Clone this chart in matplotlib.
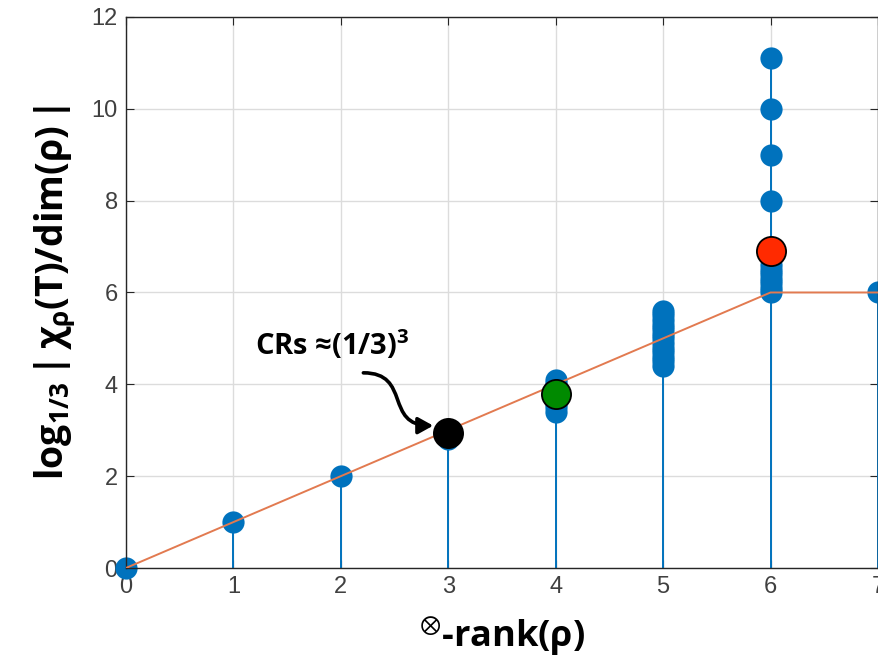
import numpy as np
import matplotlib.pyplot as plt
from matplotlib.patches import FancyArrowPatch
from matplotlib.path import Path

# ── data ─────────────────────────────────────────────
ranks = [0, 1, 2, 3, 4, 5, 6, 7]
values_by_rank = [
    [0.0],
    [1.0],
    [2.0],
    [2.8, 2.9, 3.0],
    [3.4, 3.5, 3.6, 3.7, 3.8, 3.9, 4.0, 4.1],
    [4.4, 4.5, 4.6, 4.7, 4.8, 4.9, 5.0, 5.1, 5.2, 5.3, 5.4, 5.5, 5.6],
    [6.0, 6.1, 6.2, 6.3, 6.4, 6.5, 6.6, 8.0, 9.0, 10.0, 11.1],
    [6.0],
]
bound_x = [0, 6, 7]
bound_y = [0, 6, 6]
hl_x = [3, 4, 6]
hl_y = [2.93, 3.8, 6.9]
hl_colors = ["#000000", "#008a00", "#ff2a00"]

xticks = [0, 1, 2, 3, 4, 5, 6, 7]
yticks = [0, 2, 4, 6, 8, 10, 12]

BLUE = "#0072BD"
ORANGE = "#E27A50"

plt.rcParams["mathtext.fontset"] = "custom"
plt.rcParams["mathtext.rm"] = "Open Sans:bold"
plt.rcParams["mathtext.it"] = "Open Sans:bold"
plt.rcParams["mathtext.bf"] = "Open Sans:bold"
plt.rcParams["mathtext.fallback"] = "stixsans"

fig = plt.figure(figsize=(8.79, 6.68), dpi=100)
ax = fig.add_axes([0.1433, 0.1497, 0.8555, 0.8249])

# stems
tops = [max(v) for v in values_by_rank]
ax.vlines(ranks, 0, tops, color=BLUE, linewidth=1.4, zorder=2)

# markers
px = [r for r, vs in zip(ranks, values_by_rank) for _ in vs]
py = [v for vs in values_by_rank for v in vs]
ax.plot(px, py, "o", color=BLUE, markersize=16, markeredgewidth=0,
        zorder=2.5, clip_on=False)

# bound line
ax.plot(bound_x, bound_y, color=ORANGE, linewidth=1.4, zorder=2.7)

# highlighted characters
for x, y, c in zip(hl_x, hl_y, hl_colors):
    ax.plot(x, y, "o", color=c, markersize=21, markeredgecolor="black",
            markeredgewidth=1.3, zorder=4)

# annotation
ax.text(1.92, 4.86, r"CRs ≈(1/3)$^{\mathbf{3}}$", fontsize=21,
        fontweight="bold", family=["Open Sans", "DejaVu Sans"],
        ha="center", va="center", zorder=5)
verts = [(2.21, 4.25), (2.66, 4.25), (2.40, 3.10), (2.86, 3.10)]
codes = [Path.MOVETO, Path.CURVE4, Path.CURVE4, Path.CURVE4]
arr = FancyArrowPatch(path=Path(verts, codes),
                      arrowstyle="-|>,head_length=9,head_width=5",
                      color="black", linewidth=2.6, zorder=5)
ax.add_patch(arr)

ax.set_xlim(0, 7)
ax.set_ylim(0, 12)
ax.set_xticks(xticks)
ax.set_yticks(yticks)
ax.grid(True, color="#dcdcdc", linewidth=1.0)
ax.set_axisbelow(True)
ax.tick_params(direction="in", length=6, top=True, right=True,
               labelsize=17, colors="#262626", pad=6)
for lab in ax.get_xticklabels() + ax.get_yticklabels():
    lab.set_family("Liberation Sans")
    lab.set_color("#404040")
for s in ax.spines.values():
    s.set_color("#262626")
    s.set_linewidth(1.0)

ax.set_ylabel(r"log$_{\mathbf{1/3}}$$\,$|$\,$χ$_{\mathbf{\rho}}$(T)/dim(ρ)$\,$|",
              fontsize=27, fontweight="bold",
              family=["Open Sans", "DejaVu Sans"], labelpad=10)
ax.set_xlabel(r"$^{\otimes}$-rank(ρ)", fontsize=26, fontweight="bold",
              family=["Open Sans", "DejaVu Sans"], labelpad=12)

fig.savefig("out.png", dpi=100)
